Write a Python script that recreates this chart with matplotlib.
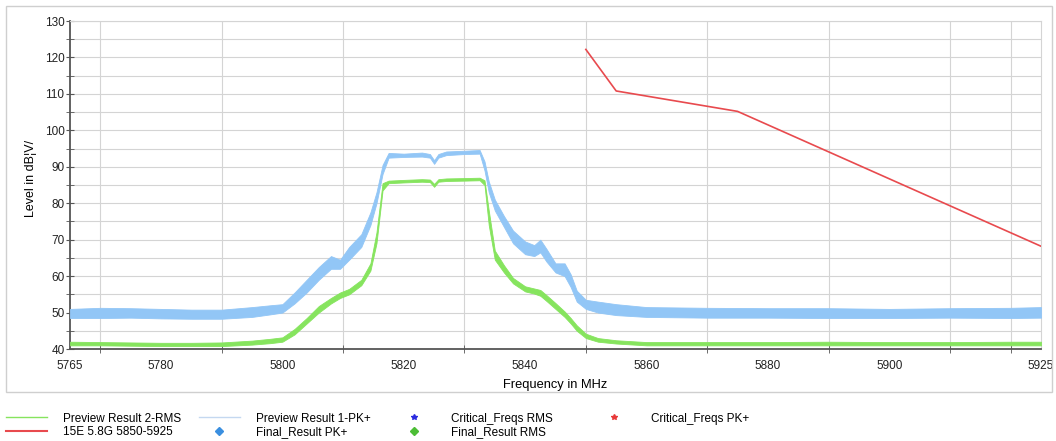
##----------Importing necessary packages-------------
import matplotlib
matplotlib.use('Agg')
import matplotlib.pyplot as plt
from matplotlib.lines import Line2D
from matplotlib.patches import Rectangle

plt.rcParams['font.family'] = ['Liberation Sans', 'DejaVu Sans']

##-----------Data-----------------------------------------------------------------
# frequency points (MHz) where the trace envelopes were read
freq = [5765, 5770, 5775, 5780, 5785, 5790, 5795, 5798, 5800, 5802, 5804, 5806,
        5808, 5809.5, 5811, 5813, 5814.5, 5815.5, 5816.5, 5817.5, 5820, 5823,
        5824.3, 5825, 5825.7, 5827, 5830, 5832.5, 5833.3, 5834, 5835, 5836.5,
        5838, 5840, 5841.5, 5842.5, 5843.5, 5845, 5846.5, 5847.5, 5848.5, 5850,
        5852, 5855, 5860, 5870, 5880, 5890, 5900, 5910, 5920, 5925]

# Preview Result 1-PK+ (blue), lower / upper edge of the noisy trace
pk_lo = [48.5, 48.5, 48.6, 48.4, 48.3, 48.3, 48.8, 49.5, 50.0, 52.5, 55.5, 59.0,
         62.0, 62.0, 64.5, 68.0, 74.0, 80.0, 88.0, 92.5, 92.7, 92.8,
         92.5, 90.8, 92.5, 93.2, 93.5, 93.6, 89.0, 83.0, 78.0, 73.5,
         69.0, 66.0, 65.5, 66.5, 64.0, 61.0, 60.0, 57.0, 53.0, 51.0,
         50.0, 49.3, 48.8, 48.6, 48.6, 48.5, 48.5, 48.6, 48.5, 48.6]
pk_hi = [51.0, 51.3, 51.2, 51.0, 50.8, 50.8, 51.5, 52.0, 52.3, 55.5, 59.0, 62.5,
         65.5, 64.5, 68.0, 71.5, 77.5, 83.0, 90.5, 93.8, 93.6, 93.9,
         93.5, 91.8, 93.5, 94.2, 94.4, 94.6, 91.5, 86.0, 81.0, 76.5,
         72.5, 69.5, 68.5, 70.0, 67.5, 63.5, 63.5, 60.5, 56.0, 53.5,
         53.0, 52.3, 51.5, 51.3, 51.2, 51.2, 51.0, 51.2, 51.3, 51.5]

# Preview Result 2-RMS (green), lower / upper edge
rms_lo = [41.0, 41.0, 40.9, 40.8, 40.8, 40.8, 41.2, 41.6, 42.0, 44.0, 47.0, 50.0,
          52.5, 54.0, 55.0, 57.5, 61.5, 69.0, 83.5, 85.5, 85.7, 85.9,
          85.8, 84.5, 85.9, 86.1, 86.2, 86.3, 85.0, 74.0, 64.5, 61.0,
          58.0, 55.8, 55.2, 54.6, 53.2, 51.0, 48.8, 47.0, 45.0, 43.0,
          42.0, 41.5, 41.0, 41.0, 41.0, 41.0, 41.0, 41.0, 41.0, 41.0]
rms_hi = [42.0, 41.9, 41.8, 41.7, 41.7, 41.8, 42.3, 42.8, 43.2, 45.5, 48.5, 51.8,
          54.0, 55.5, 56.5, 59.0, 63.5, 72.0, 85.5, 86.2, 86.4, 86.6,
          86.5, 85.3, 86.6, 86.8, 86.9, 87.0, 86.3, 78.0, 67.0, 63.0,
          59.5, 57.2, 56.6, 56.2, 54.8, 52.6, 50.3, 48.5, 46.5, 44.2,
          43.0, 42.4, 41.9, 41.9, 41.9, 42.0, 41.9, 41.9, 42.0, 42.0]

# limit line 15E 5.8G 5850-5925
limit_freq = [5850, 5855, 5875, 5925]
limit_level = [122.2, 110.8, 105.2, 68.2]

x_ticks = [5765, 5780, 5800, 5820, 5840, 5860, 5880, 5900, 5925]
##--------------------------------------------------------------------------------

blue = '#92c6f6'
green = '#86e45e'
red = '#e84a4e'
grid_c = '#d4d4d4'
axis_c = '#555555'

fig = plt.figure(figsize=(10.56, 4.41), dpi=100)
ax = fig.add_axes([70 / 1056, 1 - 349 / 441, (1041 - 70) / 1056, (349 - 21) / 441])

# outer light frame around the plot area
fig.patches.append(Rectangle((6 / 1056, 1 - 392 / 441), 1046 / 1056, 386 / 441,
                             transform=fig.transFigure, fill=False,
                             edgecolor='#cfcfcf', linewidth=1.0))

##---plot traces----
ax.fill_between(freq, pk_lo, pk_hi, color=blue, linewidth=0.6, edgecolor=blue, zorder=3)
ax.fill_between(freq, rms_lo, rms_hi, color=green, linewidth=0.6, edgecolor=green, zorder=4)
ax.plot(limit_freq, limit_level, color=red, linewidth=1.2, zorder=5)

ax.set_xlim(5765, 5925)
ax.set_ylim(40, 130)

ax.set_xticks(x_ticks)
ax.set_xticks(list(range(5770, 5921, 10)), minor=True)
ax.set_yticks(list(range(40, 131, 10)))
ax.set_yticks(list(range(45, 131, 10)), minor=True)

ax.tick_params(axis='x', which='major', length=0, labelsize=8.5, pad=8, colors='#222222')
ax.tick_params(axis='x', which='minor', length=6, direction='inout', color=axis_c)
ax.tick_params(axis='y', which='both', length=6, direction='inout', color=axis_c,
               labelsize=8.5, colors='#222222', pad=1)
ax.tick_params(axis='y', which='minor', labelleft=False)

ax.grid(False, which='major', axis='x')
ax.grid(True, which='minor', axis='x', color=grid_c, linewidth=0.8)
ax.grid(True, which='both', axis='y', color=grid_c, linewidth=0.8)
ax.set_axisbelow(True)

for s in ['left', 'bottom']:
    ax.spines[s].set_color(axis_c)
    ax.spines[s].set_linewidth(1.3)
for s in ['top', 'right']:
    ax.spines[s].set_color(grid_c)
    ax.spines[s].set_linewidth(0.8)

ax.set_xlabel('Frequency in MHz', fontsize=9.3)
ax.xaxis.set_label_coords(0.5, -(385 - 349) / 328, transform=ax.transAxes)
ax.xaxis.label.set_va('center')
ax.set_ylabel('Level in dB¦V/', fontsize=9)
ax.yaxis.set_label_coords(-(70 - 31) / 971, 0.52)
ax.yaxis.label.set_va('center')

##---legend, four columns below the frame----
cols = [
    [(Line2D([], [], color=green, lw=1), 'Preview Result 2-RMS'),
     (Line2D([], [], color=red, lw=1.5), '15E 5.8G 5850-5925')],
    [(Line2D([], [], color='#c4d8f0', lw=1), 'Preview Result 1-PK+'),
     (Line2D([], [], color='#3a8fe0', lw=0, marker='D', ms=4), 'Final_Result PK+')],
    [(Line2D([], [], color='#2b2be0', lw=0, marker='*', ms=4), 'Critical_Freqs RMS'),
     (Line2D([], [], color='#4cbd35', lw=0, marker='D', ms=4), 'Final_Result RMS')],
    [(Line2D([], [], color='#e83a3a', lw=0, marker='*', ms=4), 'Critical_Freqs PK+')],
]
col_x = [2, 195, 390, 590]
for cx, entries in zip(col_x, cols):
    fig.legend([h for h, _ in entries], [l for _, l in entries],
               loc='upper left', bbox_to_anchor=(cx / 1056, 1 - 409 / 441),
               frameon=False, fontsize=8.5, handlelength=3.55, handletextpad=1.33,
               labelspacing=0.1, borderaxespad=0, borderpad=0.3)

fig.savefig('out.png', dpi=100)
